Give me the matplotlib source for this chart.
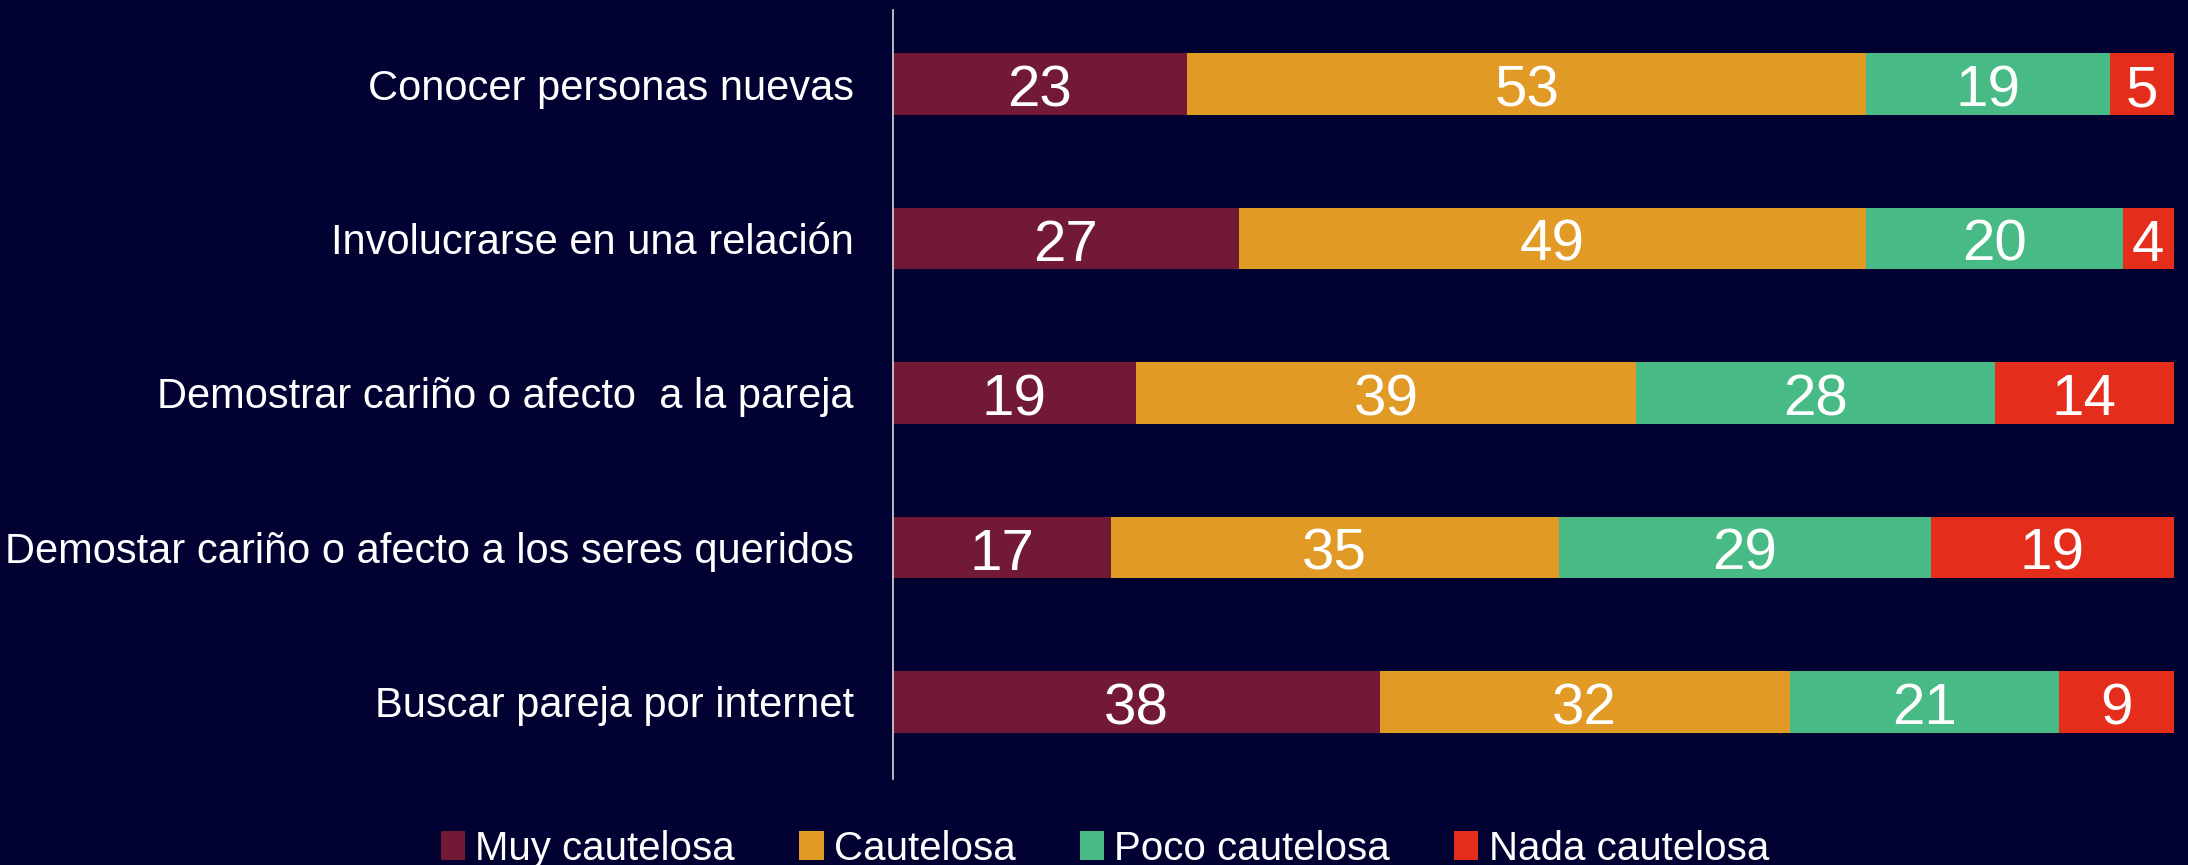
import matplotlib
matplotlib.use("Agg")
import matplotlib.pyplot as plt
import numpy as np

# ---------------------------------------------------------------------------
# Data
# ---------------------------------------------------------------------------
CATEGORIES = [
    "Conocer personas nuevas",
    "Involucrarse en una relación",
    "Demostrar cariño o afecto  a la pareja",
    "Demostar cariño o afecto a los seres queridos",
    "Buscar pareja por internet",
]
SERIES = ["Muy cautelosa", "Cautelosa", "Poco cautelosa", "Nada cautelosa"]
MUY = [23, 27, 19, 17, 38]
CAUTELOSA = [53, 49, 39, 35, 32]
POCO = [19, 20, 28, 29, 21]
NADA = [5, 4, 14, 19, 9]

COLORS = ["#721A35", "#E09A25", "#47BA86", "#E52D1C"]
BG = "#010132"
NARROW = ["Liberation Sans Narrow", "Liberation Sans", "DejaVu Sans"]
REGULAR = ["Liberation Sans", "DejaVu Sans"]

# ---------------------------------------------------------------------------
# Plot
# ---------------------------------------------------------------------------
fig = plt.figure(figsize=(21.88, 8.65), dpi=100, facecolor=BG)
ax = fig.add_axes([0.408, 0.0994, 0.5856, 0.889], facecolor=BG)

y = np.arange(len(CATEGORIES))
left = np.zeros(len(CATEGORIES))
for name, vals, color in zip(SERIES, [MUY, CAUTELOSA, POCO, NADA], COLORS):
    vals = np.array(vals, dtype=float)
    bars = ax.barh(y, vals, left=left, height=0.4, color=color, label=name)
    for rect, v in zip(bars, vals):
        # baseline placed so the digits sit centred in the bar
        ax.text(rect.get_x() + rect.get_width() / 2,
                rect.get_y() + rect.get_height() / 2 + 0.145,
                f"{int(v)}", ha="center", va="baseline", color="white",
                fontsize=42, family=REGULAR)
    left += vals

ax.set_xlim(0, 100)
ax.set_ylim(4.5, -0.48)
ax.set_yticks(y)
ax.set_yticklabels(CATEGORIES, family=NARROW, fontsize=30, color="white")
ax.tick_params(axis="y", length=0, pad=28)
ax.set_xticks([])
for side in ["top", "right", "bottom"]:
    ax.spines[side].set_visible(False)
ax.spines["left"].set_color("#d9d9d9")
ax.spines["left"].set_linewidth(1.2)

leg = fig.legend(loc="lower center", bbox_to_anchor=(0.505, -0.045), ncol=4,
                 frameon=False, handlelength=0.6, handleheight=0.75,
                 handletextpad=0.25, columnspacing=1.6,
                 prop={"family": NARROW, "size": 29})
for t in leg.get_texts():
    t.set_color("white")

fig.savefig("out.png", dpi=100, facecolor=BG)
